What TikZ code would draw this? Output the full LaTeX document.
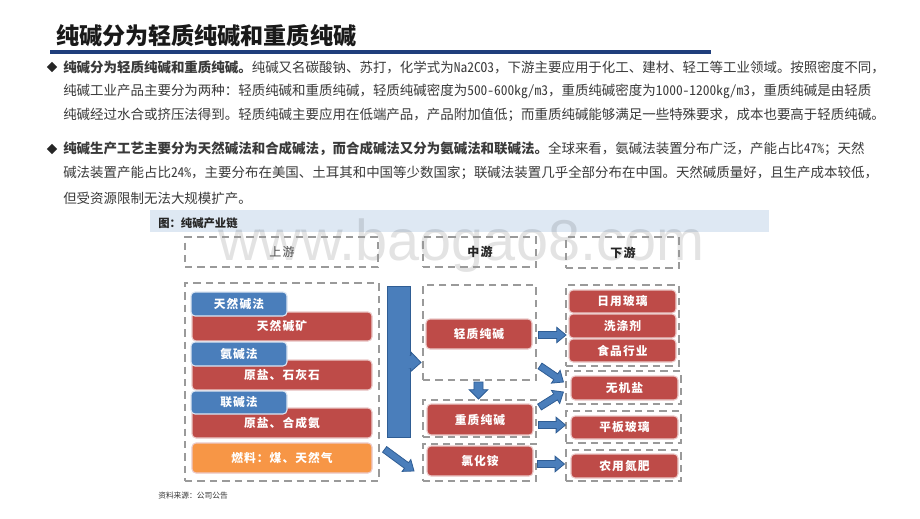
\documentclass[tikz,border=0pt]{standalone}
\usepackage{fontspec}
\usetikzlibrary{calc,shapes.geometric}
\setmainfont{Noto Sans CJK SC}
\newfontfamily\hwfont[RawFeature=+hwid]{Noto Sans CJK SC}
\newcommand{\la}[1]{{\hwfont #1}}
\newfontfamily\diagfont[LetterSpace=9]{Noto Sans CJK SC}
\newfontfamily\markfont{Liberation Sans}
\definecolor{navy}{HTML}{1F3E7C}
\definecolor{band}{HTML}{DEE8F3}
\definecolor{bodytxt}{HTML}{3A3A3A}
\definecolor{dashgray}{HTML}{9A9A9A}
\definecolor{redbox}{HTML}{BE4B48}
\definecolor{bluebox}{HTML}{4A7EBB}
\definecolor{bluedark}{HTML}{2F5D94}
\definecolor{orangebox}{HTML}{F79646}
\definecolor{pinkedge}{HTML}{EBC9C9}
\definecolor{blueedge}{HTML}{DCE6F2}
\tikzset{
  x=0.75pt,y=-0.75pt,
  bodyline/.style={anchor=west,inner sep=0pt,text=bodytxt,font=\fontsize{10.1}{12}\selectfont},
  dashbox/.style={draw=dashgray,line width=1.5pt,dash pattern=on 5.5pt off 3.8pt,inner sep=0pt},
  solidbox/.style={rounded corners=3pt,inner sep=0pt,line width=0.8pt,text=white,font=\diagfont\fontsize{8.8}{10}\bfseries\selectfont},
  redfill/.style={solidbox,fill=redbox,draw=pinkedge},
  bluefill/.style={solidbox,fill=bluebox,draw=blueedge},
  orangefill/.style={solidbox,fill=orangebox,draw=pinkedge},
  headtxt/.style={inner sep=0pt,text=black!85,font=\diagfont\fontsize{9}{11}\selectfont},
  bararrow/.style={fill=bluebox,draw=bluedark,line width=0.6pt,line join=miter},
}
\newcommand{\bx}[7]{\node[#2,minimum width={(#5-#3)*0.75pt},minimum height={(#6-#4)*0.75pt}] (#1) at ({(#3+#5)/2},{(#4+#6)/2}) {#7};}
\newcommand{\barrow}[5]{%
  \coordinate (ba) at #1; \coordinate (bb) at #2;
  \coordinate (bh) at ($(bb)!#5!(ba)$);
  \draw[bararrow] ($(ba)!#3!90:(bb)$) -- ($(bh)!#3!90:(bb)$) -- ($(bh)!#4!90:(bb)$) -- (bb)
    -- ($(bh)!#4!-90:(bb)$) -- ($(bh)!#3!-90:(bb)$) -- ($(ba)!#3!-90:(bb)$) -- cycle;}
\begin{document}
\begin{tikzpicture}
\useasboundingbox (0,0) rectangle (920,518);
\fill[white] (0,0) rectangle (920,518);
% title
\node[anchor=west,inner sep=0pt,text=black!90,font=\fontsize{17.3}{20}\bfseries\selectfont] (title) at (56,36) {纯碱分为轻质纯碱和重质纯碱};
\fill[navy] (50,50) rectangle (711,54);
% body
\node[diamond,fill=black!85,inner sep=0pt,minimum size=8pt] (b1) at (52,67) {};
\node[bodyline] (l1) at (63,67) {\textbf{纯碱分为轻质纯碱和重质纯碱。}纯碱又名碳酸钠、苏打，化学式为\la{Na2CO3}，下游主要应用于化工、建材、轻工等工业领域。按照密度不同，};
\node[bodyline] (l2) at (63,91) {纯碱工业产品主要分为两种：轻质纯碱和重质纯碱，轻质纯碱密度为\la{500-600kg/m3}，重质纯碱密度为\la{1000-1200kg/m3}，重质纯碱是由轻质};
\node[bodyline] (l3) at (63,115) {纯碱经过水合或挤压法得到。轻质纯碱主要应用在低端产品，产品附加值低；而重质纯碱能够满足一些特殊要求，成本也要高于轻质纯碱。};
\node[diamond,fill=black!85,inner sep=0pt,minimum size=8pt] (b2) at (52,149) {};
\node[bodyline] (l4) at (63,149) {\textbf{纯碱生产工艺主要分为天然碱法和合成碱法，而合成碱法又分为氨碱法和联碱法。}全球来看，氨碱法装置分布广泛，产能占比\la{47\%}；天然};
\node[bodyline] (l5) at (63,173) {碱法装置产能占比\la{24\%}，主要分布在美国、土耳其和中国等少数国家；联碱法装置几乎全部分布在中国。天然碱质量好，且生产成本较低，};
\node[bodyline] (l6) at (63,198) {但受资源限制无法大规模扩产。};
% caption band
\fill[band] (150,210) rectangle (769,232);
\node[anchor=west,inner sep=0pt,text=black!85,font=\fontsize{8.5}{10}\bfseries\selectfont] (cap) at (158,223) {图：纯碱产业链};
% watermark
\node[anchor=base west,inner sep=0pt,text=black,opacity=0.11,font=\markfont\fontsize{43.2}{50}\selectfont] (wm) at (218,260) {www.baogao8.com};
% dashed frames
\bx{hup}{dashbox}{185}{237}{378}{267}{}
\bx{hmid}{dashbox}{423}{237}{536}{267}{}
\bx{hdown}{dashbox}{566}{237}{679}{268}{}
\node[headtxt,text=black!70] (tup) at (282,252) {上游};
\node[headtxt,font=\diagfont\fontsize{9}{11}\bfseries\selectfont] (tmid) at (480,252) {中游};
\node[headtxt,font=\diagfont\fontsize{9}{11}\bfseries\selectfont] (tdown) at (623,253) {下游};
\bx{up}{dashbox}{185}{283}{379}{481}{}
\bx{mid1}{dashbox}{423}{285}{536}{380}{}
\bx{mid2}{dashbox}{423}{400}{536}{437}{}
\bx{mid3}{dashbox}{423}{444}{536}{481}{}
\bx{dn1}{dashbox}{566}{285}{679}{366}{}
\bx{dn2}{dashbox}{566}{371}{681}{404}{}
\bx{dn3}{dashbox}{566}{411}{681}{443}{}
\bx{dn4}{dashbox}{566}{450}{681}{481}{}
% upstream boxes
\bx{r1}{redfill}{192}{312}{372}{341}{天然碱矿}
\bx{b1a}{bluefill}{191}{292}{287}{316}{天然碱法}
\bx{r2}{redfill}{192}{360}{372}{390}{原盐、石灰石}
\bx{b2a}{bluefill}{191}{342}{287}{366}{氨碱法}
\bx{r3}{redfill}{192}{408}{372}{438}{原盐、合成氨}
\bx{b3a}{bluefill}{191}{391}{287}{414}{联碱法}
\bx{fuel}{orangefill}{192}{443}{372}{473}{燃料：煤、天然气}
% midstream boxes
\bx{qz}{redfill}{426}{319}{532}{349}{轻质纯碱}
\bx{zz}{redfill}{427}{404}{533}{435}{重质纯碱}
\bx{lhy}{redfill}{427}{446}{533}{476}{氯化铵}
% downstream boxes
\bx{ry}{redfill}{569}{290}{676}{313}{日用玻璃}
\bx{xd}{redfill}{569}{314}{676}{338}{洗涤剂}
\bx{sp}{redfill}{569}{339}{676}{362}{食品行业}
\bx{wj}{redfill}{571}{376}{678}{400}{无机盐}
\bx{pb}{redfill}{571}{416}{678}{439}{平板玻璃}
\bx{ny}{redfill}{571}{454}{678}{478}{农用氮肥}
% main bar and arrows
\bx{bus}{bararrow}{387}{286}{410}{437}{}
\barrow{($(bus.east)+(-1,0.5)$)}{($(mid1.west)+(-1,30)$)}{4.5pt}{7.2pt}{7.5pt}
\fill[bluebox] ($(bus.east)+(-3,-5.2)$) rectangle ($(bus.east)+(1.5,6.2)$);
\barrow{($(bus.south west)+(-2,12)$)}{($(mid3.west)+(-8,8.5)$)}{2.6pt}{5.5pt}{7pt}
\barrow{($(qz.east)+(6,1)$)}{($(qz.east -| dn1.west)+(1,1)$)}{2.6pt}{5.8pt}{7pt}
\barrow{($(mid1.east)+(3,33.5)$)}{($(wj.west)+(-7,-6)$)}{2.6pt}{5.8pt}{7pt}
\barrow{($(mid1.south)+(-1,1)$)}{($(mid2.north)+(-1,0)$)}{3.4pt}{7pt}{7pt}
\barrow{($(zz.east)+(6,-12.5)$)}{($(wj.west)+(-7,4)$)}{2.6pt}{5.8pt}{7pt}
\barrow{($(zz.east)+(5,5.5)$)}{($(zz.east -| pb.west)+(-5,5.5)$)}{2.6pt}{5.8pt}{7pt}
\barrow{($(lhy.east)+(4,3)$)}{($(lhy.east -| ny.west)+(-6,3)$)}{2.6pt}{5.8pt}{7pt}
% source
\node[anchor=west,inner sep=0pt,text=black!80,font=\fontsize{5.8}{7}\selectfont] (src) at (158,496) {资料来源：公司公告};
\end{tikzpicture}
\end{document}
